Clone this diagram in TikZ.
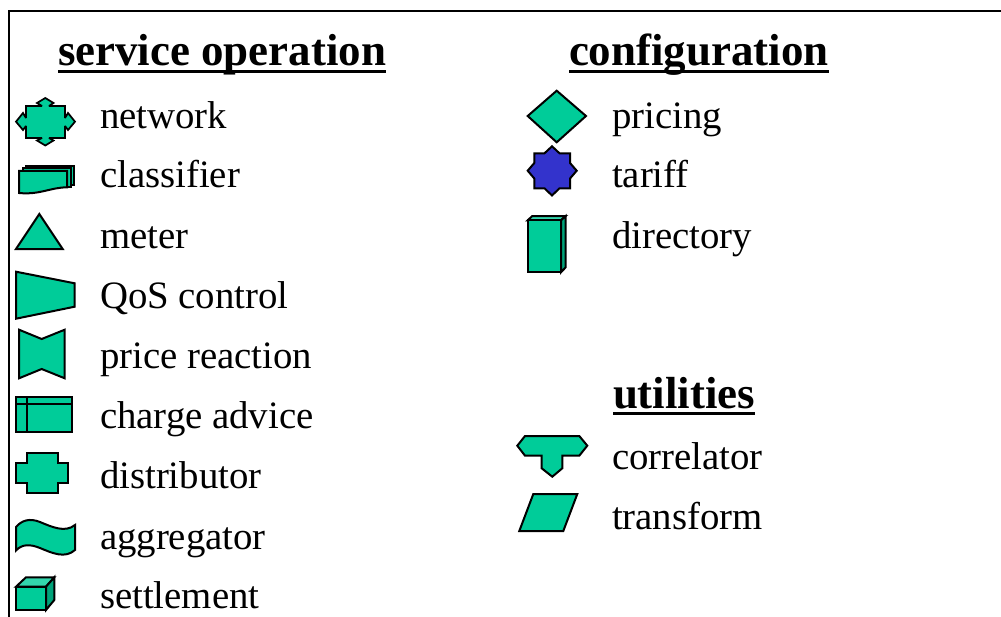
\documentclass[tikz,border=0pt]{standalone}
\usepackage{fontspec}
\setmainfont{Liberation Serif}
\definecolor{teal}{RGB}{0,204,153}
\definecolor{tealL}{RGB}{51,214,173}
\definecolor{tealD}{RGB}{0,163,122}
\definecolor{starblue}{RGB}{51,51,204}
\newlength{\ttlwd}
\newcommand{\ttltext}[1]{\settowidth{\ttlwd}{#1}\rlap{\rule[-5.2pt]{\ttlwd}{2.2pt}}#1}
\tikzset{
  shp/.style={draw=black,line width=1.5pt,fill=teal,line join=miter,miter limit=3},
  lbl/.style={anchor=base west,inner sep=0pt,outer sep=0pt,font=\fontsize{29.1}{32}\selectfont},
  ttl/.style={anchor=base west,inner sep=0pt,outer sep=0pt,font=\fontsize{33.7}{38}\selectfont\bfseries},
  frame/.style={draw=black,line width=1.5pt}
}
\begin{document}
\begin{tikzpicture}[x=0.75pt,y=-0.75pt]
\useasboundingbox (0,0) rectangle (1001,617);
% frame
\draw[frame] (1001,11) -- (9,11) -- (9,617);
% titles
\node[ttl] (tService) at (58,66) {\ttltext{service operation}};
\node[ttl] (tConfig) at (569,66) {\ttltext{configuration}};
\node[ttl] (tUtil) at (613,408) {\ttltext{utilities}};
% labels
\node[lbl] (lNetwork) at (100,128) {network};
\node[lbl] (lClassifier) at (100,187) {classifier};
\node[lbl] (lMeter) at (100,248) {meter};
\node[lbl] (lQos) at (100,308) {QoS control};
\node[lbl] (lPrice) at (100,368) {price reaction};
\node[lbl] (lCharge) at (100,428) {charge advice};
\node[lbl] (lDistrib) at (100,488) {distributor};
\node[lbl] (lAggr) at (100,549) {aggregator};
\node[lbl] (lSettle) at (100,608) {settlement};
\node[lbl] (lPricing) at (612,128) {pricing};
\node[lbl] (lTariff) at (612,187) {tariff};
\node[lbl] (lDir) at (612,248) {directory};
\node[lbl] (lCorr) at (612,469) {correlator};
\node[lbl] (lTrans) at (612,529) {transform};
% network
\draw[shp,line width=1.3pt] (26,106) -- (42,106) -- (37,103) -- (45.3,98) -- (53.5,103) -- (49,106) -- (65,106)
  -- (65,118) -- (68,113) -- (75,121.7) -- (68,130) -- (65,126) -- (65,138)
  -- (49,138) -- (53.5,140.5) -- (45.3,145.5) -- (37,140.5) -- (42,138) -- (26,138)
  -- (26,126) -- (23,130) -- (16,121.7) -- (23,113) -- (26,118) -- cycle;
% classifier
\draw[shp] (26,166) rectangle (74,185);
\draw[shp] (22.7,168) rectangle (70.7,187);
\draw[shp] (19,171) -- (67,171) -- (67,187.3) .. controls (50,187.5) and (40,195) .. (19,193) -- cycle;
% meter
\draw[shp] (39.3,214) -- (62.7,249) -- (16,249) -- cycle;
% QoS control
\draw[shp] (16,271.7) -- (74.7,283.3) -- (74.7,306.7) -- (16,318.7) -- cycle;
% price reaction
\draw[shp] (19,329.7) -- (41.7,339) -- (64.7,329.7) -- (64.7,378.3) -- (41.7,369) -- (19,378.3) -- cycle;
% charge advice
\draw[shp] (16,397) rectangle (71.7,432.3);
\draw[shp,fill=none] (16,404.3) -- (71.7,404.3) (27,397) -- (27,432.3);
% distributor
\draw[shp] (26.7,452.7) -- (58.3,452.7) -- (58.3,462.7) -- (68.3,462.7) -- (68.3,483.3) -- (58.3,483.3) -- (58.3,493.3)
  -- (26.7,493.3) -- (26.7,483.3) -- (16,483.3) -- (16,462.7) -- (26.7,462.7) -- cycle;
% aggregator
\draw[shp] (16,527) .. controls (22,520) and (30,518) .. (40,522) .. controls (52,527) and (65,533) .. (75,525)
  -- (75,550) .. controls (65,559) and (52,553) .. (40,548) .. controls (30,544) and (22,544) .. (16,550.5) -- cycle;
% settlement
\draw[shp,fill=tealL] (16,586.7) -- (26,577.3) -- (54.3,577.3) -- (46,586.7) -- cycle;
\draw[shp,fill=tealD] (46,586.7) -- (54.3,577.3) -- (54.3,600) -- (46,610) -- cycle;
\draw[shp] (16,586.7) rectangle (46,610);
% pricing
\draw[shp] (527.7,116) -- (556.7,90.7) -- (586,116) -- (556.7,142.3) -- cycle;
% tariff
\draw[shp,fill=starblue] (552,146.3) -- (559.5,153.3) -- (570,153.3) -- (570,163) -- (576.7,170.7) -- (570,178.5) -- (570,188.3)
  -- (559.5,188.3) -- (552,195.5) -- (544.5,188.3) -- (534.3,188.3) -- (534.3,178.5) -- (527.7,170.7) -- (534.3,163)
  -- (534.3,153.3) -- (544.5,153.3) -- cycle;
% directory
\draw[shp,fill=tealL] (527.7,220.3) -- (532.3,216) -- (565.7,216) -- (561,220.3) -- cycle;
\draw[shp,fill=tealD] (561,220.3) -- (565.7,216) -- (565.7,267.3) -- (561,272.3) -- cycle;
\draw[shp] (527.7,220.3) rectangle (561,272.3);
% correlator
\draw[shp] (517.3,445.7) -- (525,436) -- (579.3,436) -- (587.3,445.7) -- (579.3,455.7) -- (562.3,455.7) -- (562.3,468.3)
  -- (552.3,476.7) -- (541.7,468.3) -- (541.7,455.7) -- (525,455.7) -- cycle;
% transform
\draw[shp] (533.3,494) -- (577.3,494) -- (563.3,531) -- (519.3,531) -- cycle;
\end{tikzpicture}
\end{document}
